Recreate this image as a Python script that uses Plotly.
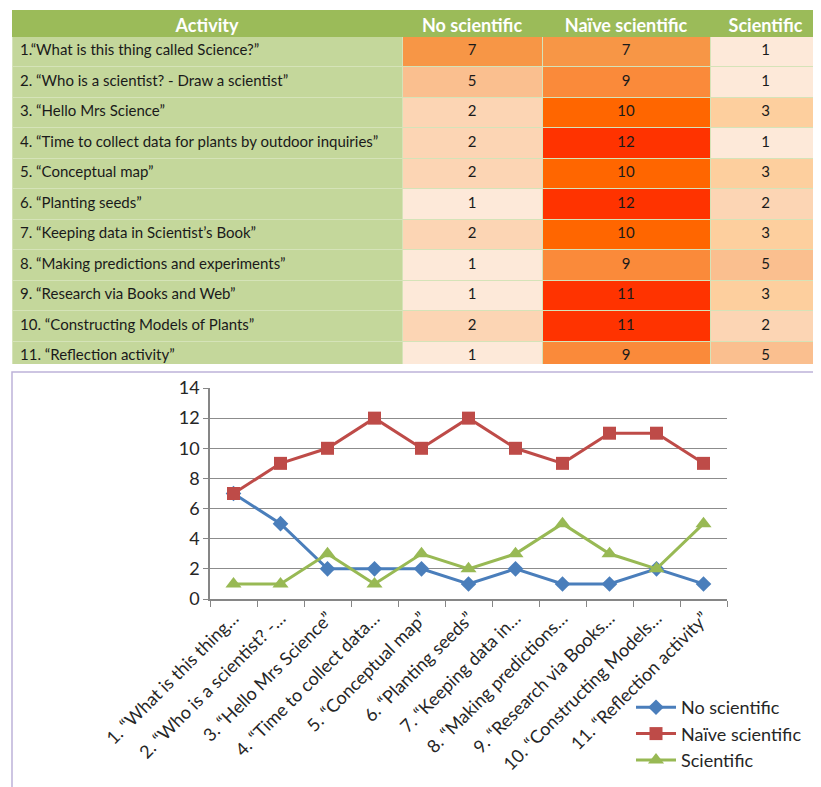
import plotly.graph_objects as go

activities = [
    "1.“What is this thing called Science?”",
    "2. “Who is a scientist? - Draw a scientist”",
    "3. “Hello Mrs Science”",
    "4. “Time to collect data for plants by outdoor inquiries”",
    "5. “Conceptual map”",
    "6. “Planting seeds”",
    "7. “Keeping data in Scientist’s Book”",
    "8. “Making predictions and experiments”",
    "9. “Research via Books and Web”",
    "10. “Constructing Models of Plants”",
    "11. “Reflection activity”",
]
short_labels = [
    "1. “What is this thing…",
    "2. “Who is a scientist? -…",
    "3. “Hello Mrs Science”",
    "4. “Time to collect data…",
    "5. “Conceptual map”",
    "6. “Planting seeds”",
    "7. “Keeping data in…",
    "8. “Making predictions…",
    "9. “Research via Books…",
    "10. “Constructing Models…",
    "11. “Reflection activity”",
]
no_scientific = [7, 5, 2, 2, 2, 1, 2, 1, 1, 2, 1]
naive_scientific = [7, 9, 10, 12, 10, 12, 10, 9, 11, 11, 9]
scientific = [1, 1, 3, 1, 3, 2, 3, 5, 3, 2, 5]
headers = ["Activity", "No scientific", "Naïve scientific", "Scientific"]

# heat colours by value (style)
heat = {1: "#fde9d9", 2: "#fcd5b4", 3: "#fdcf9e", 5: "#fabf8f", 7: "#f79646",
        9: "#fa8a3a", 10: "#ff6600", 11: "#ff3300", 12: "#ff3300"}

def col(vals):
    return [heat[v] for v in vals]

# page has an 8px body margin; figure fills the rest of the 821x787 window
OFF = 8
W, H = 821 - OFF, 787 - OFF

def px(x):
    return (x - OFF) / W

def py(y):
    return 1 - (y - OFF) / H

fig = go.Figure()

fig.add_trace(go.Table(
    domain=dict(x=[px(12), px(821)], y=[py(365), py(10)]),
    columnwidth=[390, 140, 168, 111],
    header=dict(
        values=headers,
        fill_color="#9bbb59",
        line_color="#9bbb59",
        font=dict(family="Lato", size=18, color="white", weight="bold"),
        align="center",
        height=26,
    ),
    cells=dict(
        values=[activities, no_scientific, naive_scientific, scientific],
        fill_color=[["#c4d79b"] * len(activities), col(no_scientific),
                    col(naive_scientific), col(scientific)],
        line_color="#d5e3b8",
        font=dict(family="Lato", size=15, color="#1a1a1a"),
        align=["left", "center", "center", "center"],
        height=30.5,
    ),
))

fig.add_trace(go.Scatter(
    x=short_labels, y=no_scientific, name="No scientific", mode="lines+markers",
    line=dict(color="#4a7ebb", width=3),
    marker=dict(symbol="diamond", size=12, color="#4a7ebb"),
))
fig.add_trace(go.Scatter(
    x=short_labels, y=naive_scientific, name="Naïve scientific", mode="lines+markers",
    line=dict(color="#be4b48", width=3),
    marker=dict(symbol="square", size=13, color="#be4b48"),
))
fig.add_trace(go.Scatter(
    x=short_labels, y=scientific, name="Scientific", mode="lines+markers",
    line=dict(color="#98b954", width=3),
    marker=dict(symbol="triangle-up", size=14, color="#98b954"),
))

fig.update_layout(
    width=W, height=H, autosize=False,
    margin=dict(l=0, r=0, t=0, b=0, pad=0, autoexpand=False),
    paper_bgcolor="white", plot_bgcolor="white",
    font=dict(family="Lato", color="#262626"),
    xaxis=dict(
        domain=[px(210), px(727)],
        range=[-0.5, 10.5],
        type="category",
        tickangle=-45,
        tickson="boundaries",
        ticks="outside", ticklen=6, tickcolor="#868686",
        showline=True, linecolor="#868686", linewidth=1.5,
        showgrid=False, automargin=False,
        tickfont=dict(family="Lato", size=18, color="#262626"),
    ),
    yaxis=dict(
        domain=[py(599), py(388)],
        range=[0, 14], dtick=2,
        ticks="outside", ticklen=5, tickcolor="#868686",
        showline=True, linecolor="#868686", linewidth=1.5,
        showgrid=True, gridcolor="#8c8c8c", gridwidth=1.2,
        zeroline=False, automargin=False,
        tickfont=dict(family="Lato", size=18, color="#262626"),
    ),
    legend=dict(
        x=px(631), y=py(689), xanchor="left", yanchor="top",
        font=dict(family="Lato", size=18, color="#262626"),
        bgcolor="rgba(0,0,0,0)", tracegroupgap=0, itemwidth=40,
    ),
    shapes=[dict(
        type="rect", xref="paper", yref="paper",
        x0=px(12), x1=px(819), y0=-0.02, y1=py(372),
        line=dict(color="#bdb3d9", width=1.5), fillcolor="rgba(0,0,0,0)",
        layer="below",
    )],
)

fig.write_html("out.html")
